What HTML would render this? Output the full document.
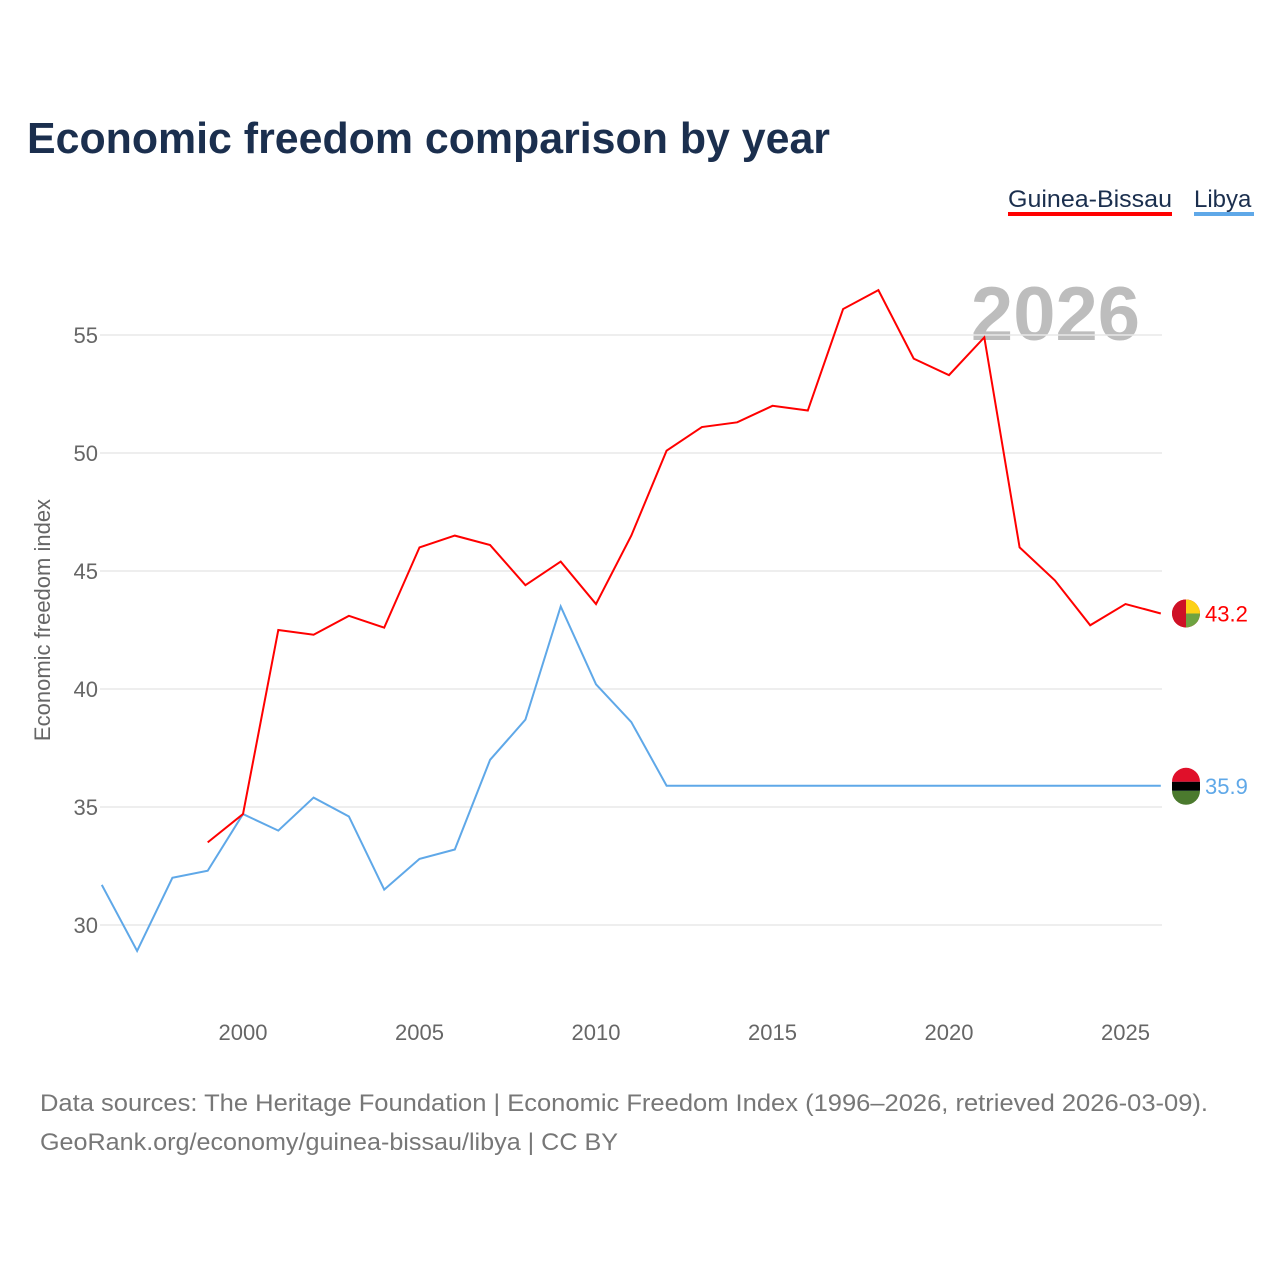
<!DOCTYPE html>
<html><head><meta charset="utf-8"><style>
body{margin:0;background:#fff;font-family:"Liberation Sans",sans-serif}
svg text{font-family:"Liberation Sans",sans-serif}
</style></head><body>
<svg id="chart" width="1280" height="1280" xmlns="http://www.w3.org/2000/svg">
<text x="27" y="153" font-size="44" font-weight="bold" fill="#1b2f4e" textLength="803" lengthAdjust="spacingAndGlyphs">Economic freedom comparison by year</text>
<g><text x="1008" y="207" font-size="24" fill="#1b2f4e" textLength="164" lengthAdjust="spacingAndGlyphs">Guinea-Bissau</text><rect x="1008" y="212" width="164" height="4" fill="#ff0000"/></g>
<g><text x="1194" y="207" font-size="24" fill="#1b2f4e">Libya</text><rect x="1194" y="212" width="60" height="4" fill="#5fa8e8"/></g>
<text x="1140" y="340" font-size="76" font-weight="bold" fill="#bdbdbd" text-anchor="end">2026</text>
<text transform="translate(50,620) rotate(-90)" font-size="22" fill="#666" text-anchor="middle">Economic freedom index</text>
<g id="grid"></g><g id="yticks"></g><g id="xticks"></g><g id="series"></g>
<text x="40" y="1111" font-size="24" fill="#777" textLength="1168" lengthAdjust="spacingAndGlyphs">Data sources: The Heritage Foundation | Economic Freedom Index (1996–2026, retrieved 2026-03-09).</text>
<text x="40" y="1150" font-size="24" fill="#777" textLength="578" lengthAdjust="spacingAndGlyphs">GeoRank.org/economy/guinea-bissau/libya | CC BY</text>
</svg>
<script>
const yTicks=[30,35,40,45,50,55];
const xTicks=[2000,2005,2010,2015,2020,2025];
const libyaYears=[1996,1997,1998,1999,2000,2001,2002,2003,2004,2005,2006,2007,2008,2009,2010,2011,2012,2013,2014,2015,2016,2017,2018,2019,2020,2021,2022,2023,2024,2025,2026];
const libyaValues=[31.7,28.9,32.0,32.3,34.7,34.0,35.4,34.6,31.5,32.8,33.2,37.0,38.7,43.5,40.2,38.6,35.9,35.9,35.9,35.9,35.9,35.9,35.9,35.9,35.9,35.9,35.9,35.9,35.9,35.9,35.9];
const gbYears=[1999,2000,2001,2002,2003,2004,2005,2006,2007,2008,2009,2010,2011,2012,2013,2014,2015,2016,2017,2018,2019,2020,2021,2022,2023,2024,2025,2026];
const gbValues=[33.5,34.7,42.5,42.3,43.1,42.6,46.0,46.5,46.1,44.4,45.4,43.6,46.5,50.1,51.1,51.3,52.0,51.8,56.1,56.9,54.0,53.3,54.9,46.0,44.6,42.7,43.6,43.2];
const NS="http://www.w3.org/2000/svg";
const x=y=>243+(y-2000)*35.3;
const yS=v=>925-(v-30)*23.6;
function mk(t,a,p){const e=document.createElementNS(NS,t);for(const k in a)e.setAttribute(k,a[k]);document.getElementById(p).appendChild(e);return e;}
yTicks.forEach(v=>{
 const l=mk('line',{x1:100,x2:1162,y1:yS(v),y2:yS(v),stroke:'#e8e8e8','stroke-width':1.5},'grid');
 
 
 const t=mk('text',{x:98,y:yS(v)+8,'font-size':22,fill:'#666','text-anchor':'end'},'yticks');t.textContent=v;
 
 
});
xTicks.forEach(v=>{
 const t=mk('text',{x:x(v),y:1040,'font-size':22,fill:'#666','text-anchor':'middle'},'xticks');t.textContent=v;
 
 
});
function series(ys,vs,col,name){
 const p=mk('polyline',{points:ys.map((y,i)=>x(y)+','+yS(vs[i])).join(' '),fill:'none',stroke:col,'stroke-width':2},'series');
 
 
 const last=vs[vs.length-1],cy=yS(last);
 const c=mk('circle',{cx:1186,cy:cy,r:14,fill:col},'series');
 
 
 const t=mk('text',{x:1205,y:cy+8,'font-size':22,fill:col},'series');t.textContent=last.toFixed(1);
 
 
 return cy;
}
const cl=series(libyaYears,libyaValues,'#5fa8e8','libya');
const cg=series(gbYears,gbValues,'#ff0000','guinea-bissau');
mk('rect',{x:1172,y:cl-4,width:28,height:9,fill:'#000'},'series');
mk('path',{d:`M1172 ${cl+5} H1200 A14 14 0 0 1 1172 ${cl+5}Z`,fill:'#4b7a2e'},'series');
mk('path',{d:`M1172 ${cl-4} H1200 A14 14 0 0 0 1172 ${cl-4}Z`,fill:'#e0102a'},'series');
mk('path',{d:`M1186 ${cg-14} A14 14 0 0 1 1200 ${cg} H1186Z`,fill:'#fcd116'},'series');
mk('path',{d:`M1186 ${cg+14} A14 14 0 0 0 1200 ${cg} H1186Z`,fill:'#6ea341'},'series');
mk('path',{d:`M1186 ${cg-14} A14 14 0 0 0 1186 ${cg+14}Z`,fill:'#ce1126'},'series');
</script>
</body></html>
